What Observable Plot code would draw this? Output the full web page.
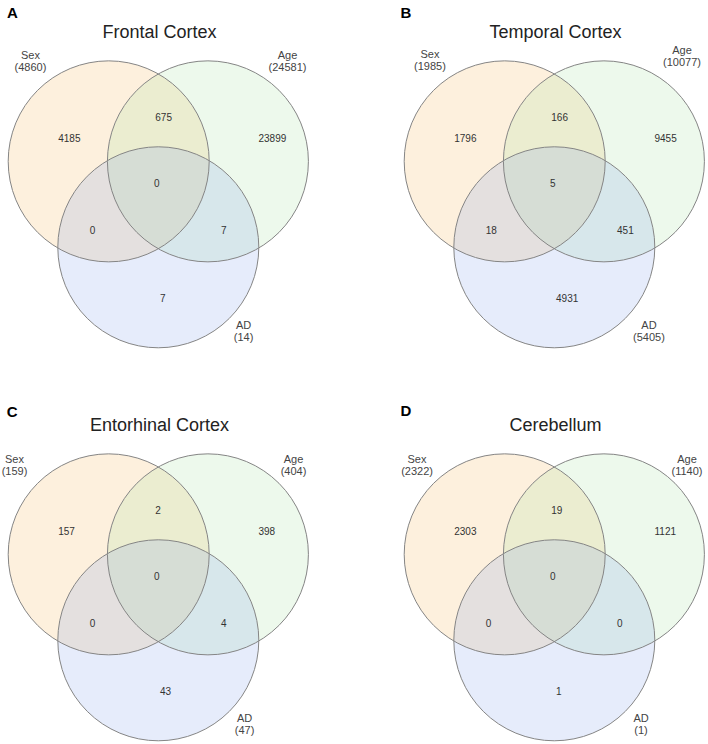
<!DOCTYPE html>
<html><head><meta charset="utf-8">
<script src="https://cdn.jsdelivr.net/npm/d3@7"></script>
<script src="https://cdn.jsdelivr.net/npm/@observablehq/plot@0.6"></script>
<style>
html,body{margin:0;padding:0;background:#fff;overflow:hidden}
#chart{position:relative;width:708px;height:744px;font-family:"Liberation Sans",Arial,sans-serif}
#chart > .panel{position:absolute;width:312px;height:351px;overflow:visible}
#chart svg{max-width:none !important;display:block}
</style></head><body><div id="chart"></div>
<script>
// ---------- DATA ----------
const panelLetters = ["A", "B", "C", "D"];
const panelTitles = ["Frontal Cortex", "Temporal Cortex", "Entorhinal Cortex", "Cerebellum"];
const sets = ["Sex", "Age", "AD"];
const setTotals = [
  [4860, 24581, 14],
  [1985, 10077, 5405],
  [159, 404, 47],
  [2322, 1140, 1]
];
const regions = ["Sex only", "Age only", "AD only", "Sex∩Age", "Sex∩AD", "Age∩AD", "Sex∩Age∩AD"];
const regionCounts = [
  [4185, 23899, 7, 675, 0, 7, 0],
  [1796, 9455, 4931, 166, 18, 451, 5],
  [157, 398, 43, 2, 0, 4, 0],
  [2303, 1121, 1, 19, 0, 0, 0]
];

// ---------- LAYOUT (venn units: circle radius = 1) ----------
const setColors = ["#F5B455", "#A5E1A0", "#82A0EB"];
const circleAngles = [150, 30, 270];   // degrees around the centroid
const circleDist = 0.57;               // centroid-to-center distance
const regionAnchors = {                // left edge / vertical middle of each count
  "Sex only": [-0.996, 0.512],
  "Age only": [0.997, 0.512],
  "AD only": [0.017, -1.080],
  "Sex∩Age": [-0.030, 0.721],
  "Sex∩AD": [-0.682, -0.403],
  "Age∩AD": [0.624, -0.403],
  "Sex∩Age∩AD": [-0.043, 0.065]
};
const setLabelPos = [
  [[-1.272, 1.284], [1.286, 1.284], [0.848, -1.403]],
  [[-1.237, 1.294], [1.271, 1.333], [0.942, -1.403]],
  [[-1.431, 1.174], [1.345, 1.174], [0.858, -1.403]],
  [[-1.366, 1.174], [1.320, 1.174], [0.863, -1.403]]
];
const letterPos = [[12, 13], [9.5, 13], [11.7, 19], [9.5, 17.5]];
const panelOffsets = [[0, 0], [396, 0], [0, 393], [396, 393]];

const panelW = 312, panelH = 351;
const unit = 100.5;          // pixels per venn unit
const cx0 = 157.8, cy0 = 189.5;
const xDomain = [-cx0 / unit, (panelW - cx0) / unit];
const yDomain = [-(panelH - cy0) / unit, cy0 / unit];
const font = "Liberation Sans, Arial, Helvetica, sans-serif";

const chart = document.getElementById("chart");

panelLetters.forEach((letter, i) => {
  const circles = sets.map((s, k) => ({
    set: s,
    x: circleDist * Math.cos(circleAngles[k] * Math.PI / 180),
    y: circleDist * Math.sin(circleAngles[k] * Math.PI / 180),
    r: 1
  }));
  const regionData = regions.map((rg, k) => ({
    region: rg, count: regionCounts[i][k],
    x: regionAnchors[rg][0], y: regionAnchors[rg][1]
  }));
  const labelData = sets.map((s, k) => ({
    set: s, total: setTotals[i][k],
    x: setLabelPos[i][k][0], y: setLabelPos[i][k][1]
  }));

  const svg = Plot.plot({
    width: panelW,
    height: panelH,
    margin: 0,
    style: {fontFamily: font, fontSize: "10px", background: "transparent", overflow: "visible", maxWidth: "none"},
    x: {domain: xDomain, axis: null},
    y: {domain: yDomain, axis: null},
    r: {type: "linear", domain: [0, 1], range: [0, unit]},
    color: {domain: sets, range: setColors},
    marks: [
      Plot.dot(circles, {x: "x", y: "y", r: "r", fill: "set", fillOpacity: 0.2, stroke: "none"}),
      Plot.dot(circles, {x: "x", y: "y", r: "r", fill: "none", stroke: "#858585", strokeWidth: 1}),
      Plot.text(regionData, {x: "x", y: "y", text: d => String(d.count), textAnchor: "start",
        fontSize: 10, fill: "#333", fontFamily: font}),
      Plot.text(labelData, {x: "x", y: "y", text: d => `${d.set}\n(${d.total})`,
        fontSize: 11, lineHeight: 1.13, fill: "#444", fontFamily: font}),
      Plot.text([panelTitles[i]], {frameAnchor: "top-left", text: d => d, textAnchor: "middle",
        lineAnchor: "middle", dx: 159, dy: 32, fontSize: 18, fill: "#222", fontFamily: font}),
      Plot.text([letter], {frameAnchor: "top-left", text: d => d, textAnchor: "middle",
        lineAnchor: "middle", dx: letterPos[i][0], dy: letterPos[i][1], fontSize: 15,
        fontWeight: "bold", fill: "#000", fontFamily: font})
    ]
  });
  const wrap = document.createElement("div");
  wrap.className = "panel";
  wrap.style.left = panelOffsets[i][0] + "px";
  wrap.style.top = panelOffsets[i][1] + "px";
  wrap.appendChild(svg);
  chart.appendChild(wrap);
});
</script>
</body></html>
